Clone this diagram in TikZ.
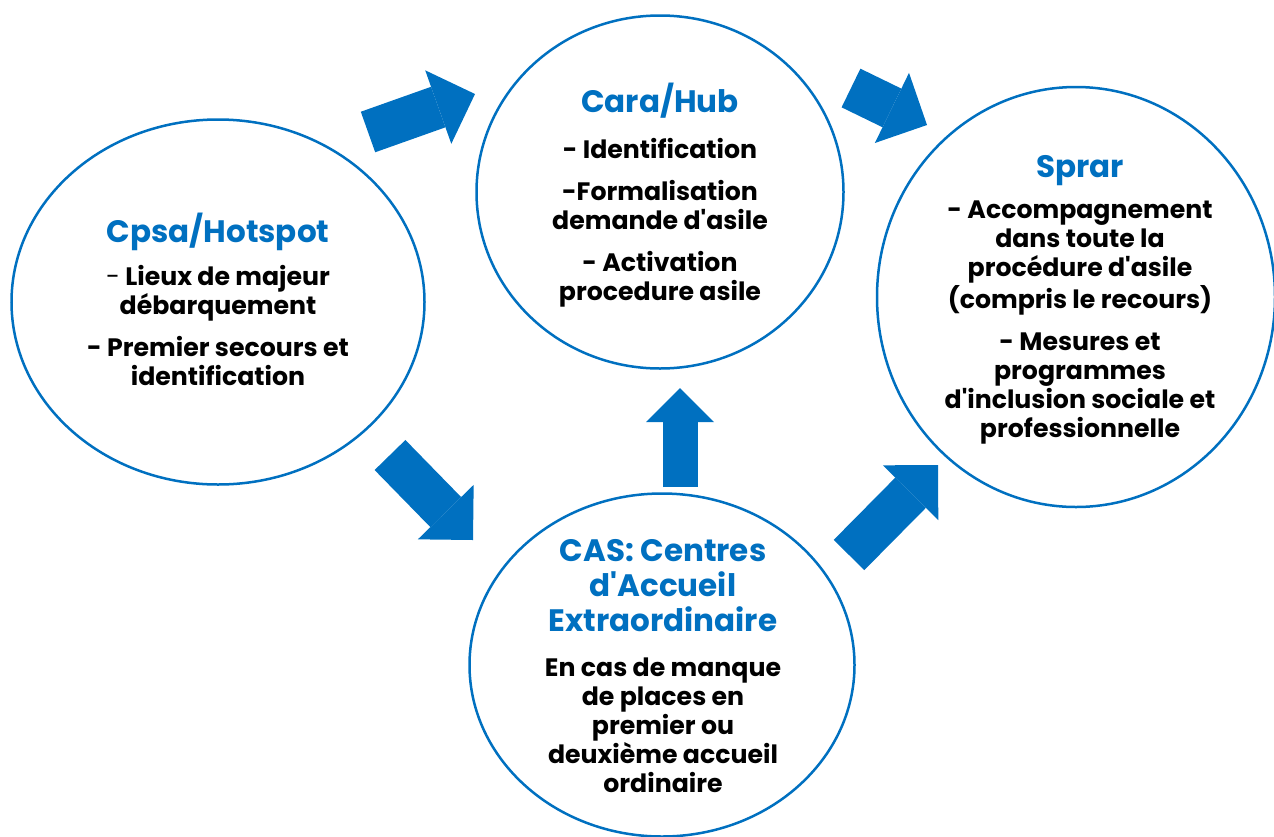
\documentclass[tikz,border=0pt]{standalone}
\usepackage{fontspec}
\setmainfont{Poppins}
\usetikzlibrary{arrows.meta,shapes.geometric}
\definecolor{blueone}{RGB}{0,112,192}
\newcommand{\ap}{\textquotesingle}
\tikzset{
  place/.style={ellipse, draw=blueone, line width=1.25pt, fill=white, inner sep=0pt},
  title/.style={text=blueone, font=\fontsize{15.5}{17.5}\selectfont\bfseries, align=center, anchor=base, inner sep=0pt},
  body/.style={font=\fontsize{12.6}{14.5}\selectfont\bfseries, align=center, anchor=base, inner sep=0pt},
  flow/.style={draw=blueone, line width=21.5pt, -{Triangle[length=19.5pt, width=39pt, line width=0pt]}},
  flowup/.style={draw=blueone, line width=17.5pt, -{Triangle[length=17pt, width=34pt, line width=0pt]}}
}
\begin{document}
\begin{tikzpicture}[x=0.5pt, y=-0.5pt]
\useasboundingbox (0,0) rectangle (1274,836);
% les quatre centres
\node[place, minimum width=206.5pt, minimum height=182.5pt] (cpsa) at (218,302) {};
\node[place, minimum width=183.5pt, minimum height=176.5pt] (cara) at (660,192) {};
\node[place, minimum width=199pt, minimum height=210pt] (sprar) at (1076,297) {};
\node[place, minimum width=192.5pt, minimum height=171.5pt] (cas) at (662,665) {};
% textes (ancre = ligne de base de la derniere ligne)
\node[title] (cpsa-t) at (218,242) {Cpsa/Hotspot};
\node[body] (cpsa-b) at (218,385) {{\mdseries -} Lieux de majeur\\ débarquement\\[6.5pt] - Premier secours et\\ identification};
\node[title] (cara-t) at (660,112) {Cara/Hub};
\node[body] (cara-b) at (660,300) {- Identification\\[6.5pt] -Formalisation\\ demande d\ap asile\\[6.5pt] - Activation\\ procedure asile};
\node[title] (sprar-t) at (1080,177) {Sprar};
\node[body] (sprar-b) at (1080,437) {- Accompagnement\\ dans toute la\\ procédure d\ap asile\\ (compris le recours)\\[6.5pt] - Mesures et\\ programmes\\ d\ap inclusion sociale et\\ professionnelle};
\node[title] (cas-t) at (663,631) {CAS: Centres\\ d\ap Accueil\\ Extraordinaire};
\node[body] (cas-b) at (663,792) {En cas de manque\\ de places en\\ premier ou\\ deuxième accueil\\ ordinaire};
% fleches
\coordinate (a1) at (368,132); \coordinate (b1) at (475,94);
\coordinate (a2) at (851,88);  \coordinate (b2) at (927,125);
\coordinate (a3) at (390,455); \coordinate (b3) at (473,540);
\coordinate (a4) at (680,487); \coordinate (b4) at (680,388);
\coordinate (a5) at (849,555); \coordinate (b5) at (938,465);
\draw[flow] (a1) -- (b1);
\draw[flow] (a2) -- (b2);
\draw[flow] (a3) -- (b3);
\draw[flowup] (a4) -- (b4);
\draw[flow] (a5) -- (b5);
\end{tikzpicture}
\end{document}
